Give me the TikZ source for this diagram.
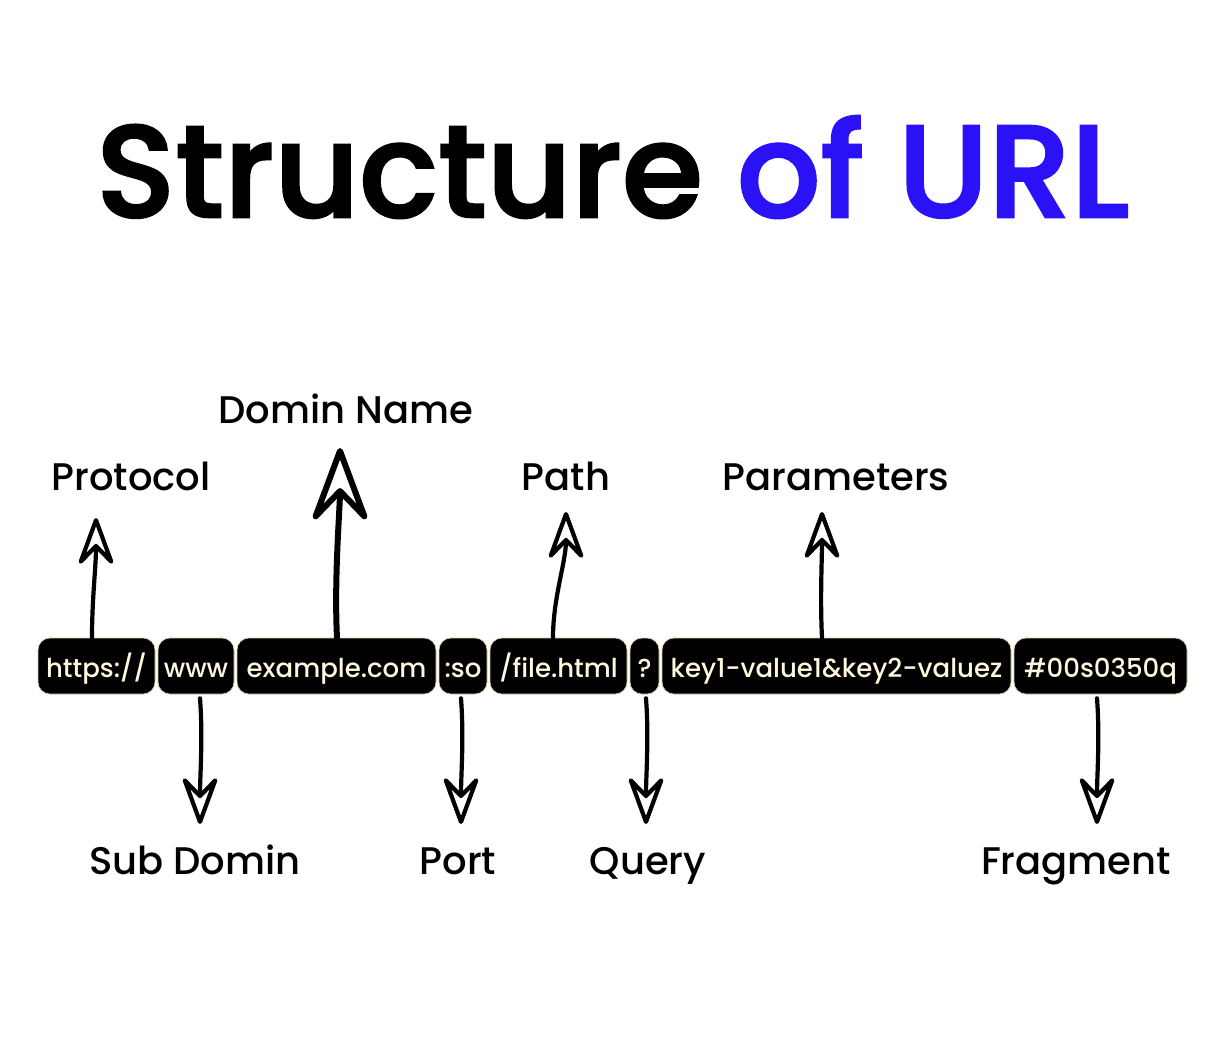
\documentclass[tikz,border=0pt]{standalone}
\usepackage{fontspec}
\setmainfont{Poppins}
\newfontfamily\medfont{Poppins Medium}
\newfontfamily\titlefont[FakeBold=2]{Poppins Medium}
\usetikzlibrary{arrows.meta}
\definecolor{urlblue}{RGB}{43,17,245}
\definecolor{cream}{RGB}{255,246,222}
\definecolor{halo}{RGB}{225,205,160}
\begin{document}
\begin{tikzpicture}[x=1pt,y=-1pt,
  urlbox/.style={fill=black, draw=halo, line width=0.6pt, rounded corners=12pt,
    minimum height=56pt, inner xsep=0pt, inner ysep=0pt, text=cream,
    text height=22pt, text depth=0pt,
    font=\medfont\fontsize{26}{28}\selectfont, anchor=center},
  lbl/.style={font=\medfont\fontsize{38.5}{42}\selectfont, anchor=base, inner sep=0pt},
  arr/.style={line width=4.2pt, line cap=round, line join=round,
    -{Stealth[open,length=56pt,width=41pt,inset=21pt,round]}},
  bigarr/.style={line width=6pt, line cap=round, line join=round,
    -{Stealth[open,length=86pt,width=64pt,inset=33pt,round]}},
]
\useasboundingbox[fill=white] (0,0) rectangle (1227,1050);

% title
\node[anchor=base west, inner sep=0pt] (title) at (96,217)
  {\titlefont\fontsize{131}{140}\selectfont Structure \textcolor{urlblue}{of URL}};

% URL boxes
\node[urlbox, minimum width=117pt] (b1) at (96.5,666) {https://};
\node[urlbox, minimum width=76pt]  (b2) at (196,666) {www};
\node[urlbox, minimum width=199pt] (b3) at (336.5,666) {example.com};
\node[urlbox, minimum width=48pt]  (b4) at (463,666) {:so};
\node[urlbox, minimum width=137pt] (b5) at (558.5,666) {/file.html};
\node[urlbox, minimum width=29pt]  (b6) at (644.5,666) {?};
\node[urlbox, minimum width=349pt] (b7) at (836.5,666) {key1-value1\&key2-valuez};
\node[urlbox, minimum width=173pt] (b8) at (1100.5,666) {\#00s0350q};

% labels
\node[lbl] (lProt) at (131,490) {Protocol};
\node[lbl] (lDom)  at (346,423) {Domin Name};
\node[lbl] (lPath) at (566,490) {Path};
\node[lbl] (lPar)  at (836,490) {Parameters};
\node[lbl] (lSub)  at (195,874) {Sub Domin};
\node[lbl] (lPort) at (458,874) {Port};
\node[lbl] (lQue)  at (648,874) {Query};
\node[lbl] (lFrag) at (1076,874) {Fragment};

% arrow tips
\coordinate (tProt) at (96,518);
\coordinate (tDom)  at (340,448);
\coordinate (tPath) at (566,512);
\coordinate (tPar)  at (822,512);
\coordinate (tSub)  at (200,824);
\coordinate (tPort) at (461,824);
\coordinate (tQue)  at (646,824);
\coordinate (tFrag) at (1097,824);

% up arrows
\draw[arr] ([xshift=-4.5pt]b1.north) .. controls +(0,-40) and +(0,50) .. (tProt);
\draw[bigarr] ([xshift=0.5pt]b3.north) .. controls +(-3,-60) and +(0,60) .. (tDom);
\draw[arr] ([xshift=-5.5pt]b5.north) .. controls +(0,-40) and +(0,50) .. (tPath);
\draw[arr] ([xshift=-14.5pt]b7.north) .. controls +(-2,-40) and +(0,50) .. (tPar);

% down arrows
\draw[arr] ([shift={(4,4)}]b2.south) .. controls +(3,40) and +(0,-50) .. (tSub);
\draw[arr] ([shift={(-2,4)}]b4.south) .. controls +(3,40) and +(0,-50) .. (tPort);
\draw[arr] ([shift={(1.5,4)}]b6.south) .. controls +(3,40) and +(0,-50) .. (tQue);
\draw[arr] ([shift={(-3.5,4)}]b8.south) .. controls +(3,40) and +(0,-50) .. (tFrag);
\end{tikzpicture}
\end{document}
